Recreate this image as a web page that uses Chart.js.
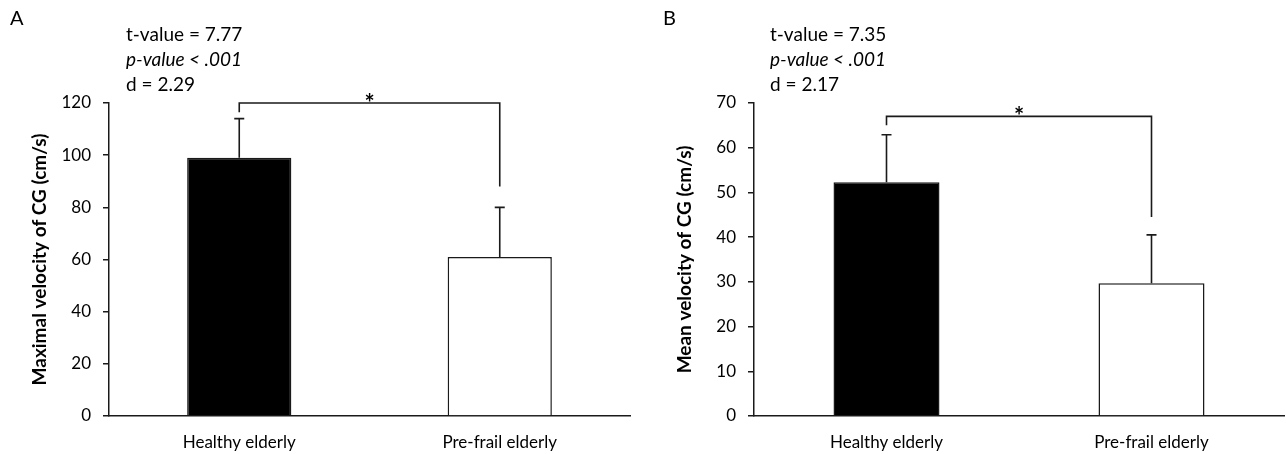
<!DOCTYPE html>
<html>
<head>
<meta charset="utf-8">
<script src="https://cdn.jsdelivr.net/npm/chart.js@4"></script>
<style>
  html, body { margin: 0; padding: 0; background: #fff; }
  body { width: 1286px; height: 454px; position: relative; overflow: hidden; font-family: Lato, "Open Sans", sans-serif; color: #000; }
  .panel { position: absolute; top: 0; height: 454px; }
  .letter { position: absolute; font-size: 20px; top: 5px; }
  .stats { position: absolute; top: 21px; font-size: 19px; line-height: 25px; }
  .stats i { font-style: italic; }
</style>
</head>
<body>
<div class="panel" style="left:0;width:645px">
  <canvas id="chartA" width="645" height="454"></canvas>
  <div class="letter" style="left:10px">A</div>
  <div class="stats" style="left:126px">t-value = 7.77<br><i>p-value &lt; .001</i><br>d = 2.29</div>
</div>
<div class="panel" style="left:645px;width:641px">
  <canvas id="chartB" width="641" height="454"></canvas>
  <div class="letter" style="left:18px">B</div>
  <div class="stats" style="left:125px">t-value = 7.35<br><i>p-value &lt; .001</i><br>d = 2.17</div>
</div>
<script>
// groups on the x axis
const groups = ['Healthy elderly', 'Pre-frail elderly'];

// panel A: maximal velocity of CG (cm/s)
const maxVelocity = [99, 61];
const maxVelocitySD = [15, 19];
const maxTicks = [0, 20, 40, 60, 80, 100, 120];
// bracket: top level, left end, right end
const maxBracket = [120, 116.5, 88];

// panel B: mean velocity of CG (cm/s)
const meanVelocity = [52.3, 29.7];
const meanVelocitySD = [10.6, 10.8];
const meanTicks = [0, 10, 20, 30, 40, 50, 60, 70];
const meanBracket = [67, 65, 44.5];

const INK = '#1a1a1a';

// draws the upper error whiskers and the significance bracket
const extras = {
  id: 'extras',
  afterDatasetsDraw(chart, args, opts) {
    const ctx = chart.ctx;
    const x = chart.scales.x, y = chart.scales.y;
    const meta = chart.getDatasetMeta(0);
    ctx.save();
    ctx.strokeStyle = INK;
    ctx.lineWidth = 1.6;
    // whiskers
    meta.data.forEach((bar, i) => {
      const top = y.getPixelForValue(opts.values[i] + opts.sd[i]);
      ctx.beginPath();
      ctx.moveTo(bar.x, bar.y);
      ctx.lineTo(bar.x, top);
      ctx.moveTo(bar.x - 5, top);
      ctx.lineTo(bar.x + 5, top);
      ctx.stroke();
    });
    // bracket
    const x1 = x.getPixelForValue(0), x2 = x.getPixelForValue(1);
    const yTop = y.getPixelForValue(opts.bracket[0]);
    ctx.beginPath();
    ctx.moveTo(x1, y.getPixelForValue(opts.bracket[1]));
    ctx.lineTo(x1, yTop);
    ctx.lineTo(x2, yTop);
    ctx.lineTo(x2, y.getPixelForValue(opts.bracket[2]));
    ctx.stroke();
    ctx.fillStyle = '#000';
    ctx.font = 'bold 24px Lato';
    ctx.textAlign = 'center';
    ctx.textBaseline = 'alphabetic';
    ctx.fillText('*', (x1 + x2) / 2, yTop + 9);
    ctx.restore();
  }
};

function makeChart(id, values, sd, ticks, bracket, yTitle, padRight) {
  return new Chart(document.getElementById(id), {
    type: 'bar',
    data: {
      labels: groups,
      datasets: [{
        data: values,
        backgroundColor: ['#000', '#fff'],
        borderColor: INK,
        borderWidth: 1.5,
        borderSkipped: 'bottom',
        barPercentage: 0.4,
        categoryPercentage: 1
      }]
    },
    options: {
      responsive: false,
      animation: false,
      layout: { padding: { left: 24, right: padRight, top: 103, bottom: 0 } },
      plugins: {
        legend: { display: false },
        tooltip: { enabled: false },
        extras: { values: values, sd: sd, bracket: bracket }
      },
      scales: {
        x: {
          grid: { display: false },
          border: { display: true, color: INK, width: 1.5 },
          ticks: { color: '#000', padding: 8, font: { family: 'Lato', size: 17 } },
          afterFit: s => { s.height = 38; }
        },
        y: {
          min: 0,
          max: ticks[ticks.length - 1],
          afterBuildTicks: s => { s.ticks = ticks.map(v => ({ value: v })); },
          grid: { drawOnChartArea: false, drawTicks: true, tickLength: 6, color: INK, lineWidth: 1.5 },
          border: { display: true, color: INK, width: 1.5 },
          ticks: { color: '#000', padding: 12, font: { family: 'Lato', size: 17 } },
          title: { display: true, text: yTitle, color: '#000', font: { family: 'Lato', size: 19, weight: 'bold' } },
          afterFit: s => { s.width = 85; }
        }
      }
    },
    plugins: [extras]
  });
}

makeChart('chartA', maxVelocity, maxVelocitySD, maxTicks, maxBracket, 'Maximal velocity of CG (cm/s)', 15);
makeChart('chartB', meanVelocity, meanVelocitySD, meanTicks, meanBracket, 'Mean velocity of CG (cm/s)', 2);
</script>
</body>
</html>
